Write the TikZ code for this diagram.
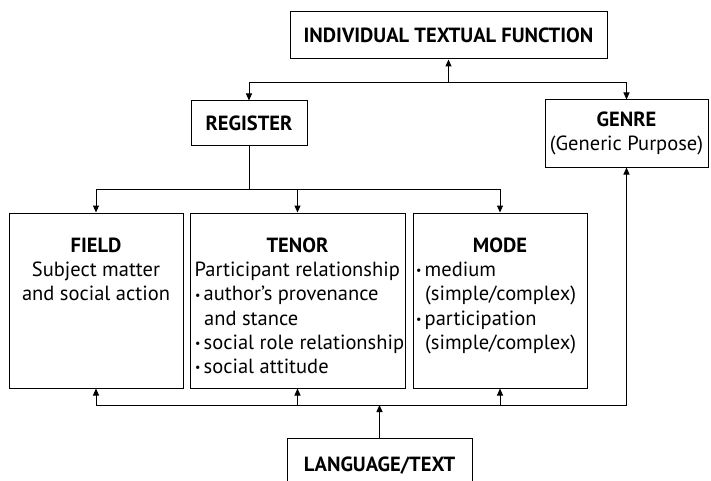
\documentclass[tikz,border=0pt]{standalone}
\usepackage{fontspec}
\setmainfont{PT Sans}
\usetikzlibrary{arrows.meta}
\newcommand\mybul{\makebox[8.5pt][l]{\fontsize{12}{12}\selectfont\raisebox{1.5pt}{•}}}
\newcommand\myind{\hspace*{9pt}}
\begin{document}
\begin{tikzpicture}[x=1pt,y=-1pt,
  box/.style={draw, line width=1pt, inner sep=0pt, align=center,
    font=\fontsize{20.5}{24.5}\selectfont},
  lbl/.style={inner sep=0pt, font=\fontsize{20.5}{24.5}\selectfont},
  head/.style={inner sep=0pt, font=\fontsize{20.5}{24.5}\selectfont\bfseries},
  conn/.style={line width=1pt},
  arr/.style={line width=1pt, -{Triangle[length=7pt,width=6pt]}}]
\useasboundingbox (0,0) rectangle (711,481);
\clip (0,0) rectangle (711,481);
% boxes
\node[box, minimum width=317pt, minimum height=47pt] (itf) at (448.5,35.5) {\bfseries INDIVIDUAL TEXTUAL FUNCTION};
\node[box, minimum width=116pt, minimum height=45pt] (reg) at (249,123.5) {\bfseries REGISTER};
\node[box, minimum width=163pt, minimum height=67pt] (genre) at (626.5,133.5) {{\bfseries GENRE}\\(Generic Purpose)};
\node[box, minimum width=174pt, minimum height=175pt] (field) at (96,300.5) {};
\node[box, minimum width=215pt, minimum height=175pt] (tenor) at (297.5,300.5) {};
\node[box, minimum width=174pt, minimum height=175pt] (mode) at (500,300.5) {};
\node[box, minimum width=185pt, minimum height=56pt] (lang) at (379.5,466) {\bfseries LANGUAGE/TEXT};
% box contents
\node[head, anchor=base] (fieldh) at (96,252) {FIELD};
\node[lbl, anchor=base] (fieldt) at (96,276) {Subject matter};
\node[lbl, anchor=base] (fieldt2) at (96,300.5) {and social action};
\node[head, anchor=base] (tenorh) at (297.5,252) {TENOR};
\node[lbl, anchor=base west] (tenor1) at (194.5,276) {Participant relationship};
\node[lbl, anchor=base west] (tenor2) at (195,300.5) {\mybul author’s provenance};
\node[lbl, anchor=base west] (tenor3) at (195,325) {\myind and stance};
\node[lbl, anchor=base west] (tenor4) at (195,349) {\mybul social role relationship};
\node[lbl, anchor=base west] (tenor5) at (195,373) {\mybul social attitude};
\node[head, anchor=base] (modeh) at (500,252) {MODE};
\node[lbl, anchor=base west] (mode1) at (416,276) {\mybul medium};
\node[lbl, anchor=base west] (mode2) at (416,300.5) {\myind(simple/complex)};
\node[lbl, anchor=base west] (mode3) at (416,325) {\mybul participation};
\node[lbl, anchor=base west] (mode4) at (416,349) {\myind(simple/complex)};
% connectors
\coordinate (top) at (448.5,83);
\coordinate (mid) at (249,189);
\coordinate (bot) at (379.5,405);
\draw[arr] (top) -- (itf.south);
\draw[conn] (reg.north |- top) -- (genre.north |- top);
\draw[arr] (reg.north |- top) -- (reg.north);
\draw[arr] (genre.north |- top) -- (genre.north);
\draw[conn] (reg.south) -- (mid);
\draw[conn] (field.north |- mid) -- (mode.north |- mid);
\draw[arr] (field.north |- mid) -- (field.north);
\draw[arr] (tenor.north |- mid) -- (tenor.north);
\draw[arr] (mode.north |- mid) -- (mode.north);
\draw[arr] (lang.north) -- (bot);
\draw[conn] (field.south |- bot) -- (genre.south |- bot);
\draw[arr] (field.south |- bot) -- (field.south);
\draw[arr] (tenor.south |- bot) -- (tenor.south);
\draw[arr] (mode.south |- bot) -- (mode.south);
\draw[arr] (genre.south |- bot) -- (genre.south);
\end{tikzpicture}
\end{document}
